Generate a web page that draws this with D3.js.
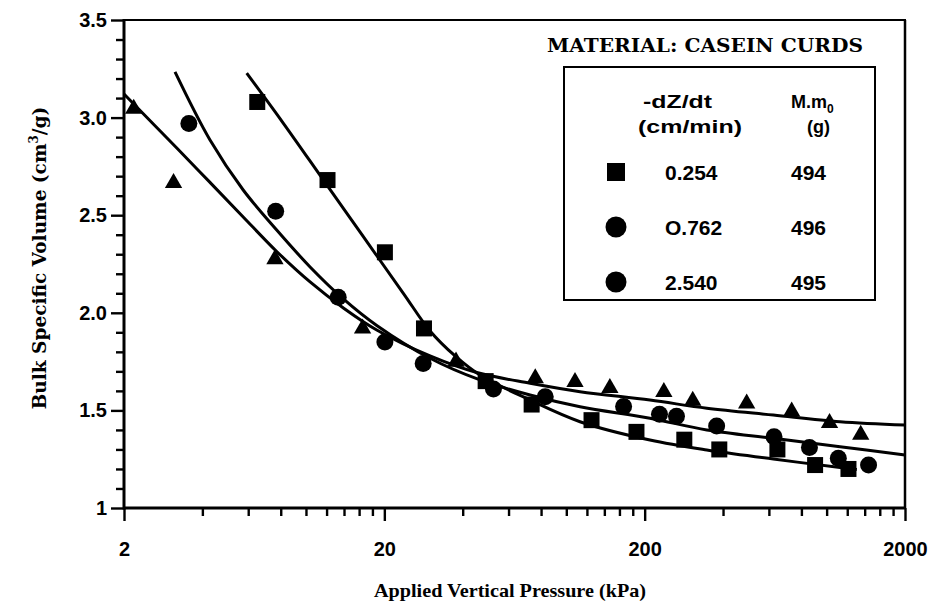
<!DOCTYPE html>
<html><head><meta charset="utf-8">
<script src="https://cdn.jsdelivr.net/npm/d3@7"></script>
<style>
html,body{margin:0;padding:0;background:#fff;}
svg{display:block;}
</style></head>
<body>
<svg id="chart" width="933" height="606"></svg>
<script>
// ---- data ----
const squarePts = [[6.5,3.08],[12.1,2.68],[20.1,2.31],[28.4,1.92],[49,1.65],[73.6,1.53],[125,1.45],[186,1.39],[284,1.35],[387,1.30],[647,1.30],[903,1.22],[1213,1.20]];
const circlePts = [[3.55,2.97],[7.65,2.52],[13.3,2.08],[20.1,1.85],[28.2,1.74],[52.5,1.61],[83,1.57],[166,1.52],[228,1.48],[265,1.47],[378,1.42],[628,1.365],[859,1.31],[1109,1.255],[1449,1.22]];
const trianglePts = [[2.18,3.05],[3.1,2.67],[7.6,2.28],[16.5,1.925],[37.7,1.755],[76,1.67],[108,1.65],[147,1.62],[237,1.60],[306,1.555],[493,1.54],[734,1.50],[1026,1.44],[1352,1.38]];

const squareFit = [[5.92,3.228],[8.19,2.971],[11.67,2.68],[16.61,2.39],[23.66,2.10],[29.97,1.907],[37.4,1.779],[46.6,1.681],[72.6,1.553],[112.9,1.442],[209.6,1.348],[346.6,1.297],[624.4,1.251],[1126,1.207],[1306,1.197]];
const circleFit = [[3.14,3.234],[4.28,2.885],[5.74,2.629],[7.72,2.424],[10.37,2.235],[13.92,2.071],[18.7,1.935],[29.97,1.767],[46.6,1.656],[72.6,1.579],[112.9,1.519],[209.6,1.46],[346.6,1.40],[624.4,1.357],[1126,1.314],[2000,1.271]];
const triangleFit = [[2,3.121],[3.19,2.844],[4.28,2.668],[5.74,2.491],[7.72,2.314],[10.37,2.158],[13.92,2.025],[18.7,1.912],[29.97,1.779],[45.3,1.694],[72.6,1.639],[112.9,1.596],[209.6,1.553],[346.6,1.511],[624.4,1.476],[1126,1.442],[2000,1.425]];

const xMajorTicks = [2,20,200,2000];
const xMinorTicks = [4,6,8,10,12,14,16,18,40,60,80,100,120,140,160,180,400,600,800,1000,1200,1400,1600,1800];
const yMajorTicks = [1,1.5,2,2.5,3,3.5];
const yTickLabels = ["1","1.5","2.0","2.5","3.0","3.5"];
const yMinorTicks = [1.1,1.2,1.3,1.4,1.6,1.7,1.8,1.9,2.1,2.2,2.3,2.4,2.6,2.7,2.8,2.9,3.1,3.2,3.3,3.4];

const legendTitle = "MATERIAL: CASEIN CURDS";
const legendRows = [
  {shape:"square", rate:"0.254", mass:"494"},
  {shape:"circle", rate:"O.762", mass:"496"},
  {shape:"circle", rate:"2.540", mass:"495"}
];

// ---- layout ----
const L=124, R=905, T=20, B=508;
const svg = d3.select("#chart");
const x = d3.scaleLog().domain([2,2000]).range([L,R]);
const y = d3.scaleLinear().domain([1,3.5]).range([B,T]);

const tickFont = "'Liberation Sans', Arial, sans-serif";
const serif = "'DejaVu Serif', 'Liberation Serif', serif";

// axes
const gx = svg.append("g").attr("transform",`translate(0,${B})`)
  .call(d3.axisBottom(x).tickValues(xMajorTicks).tickFormat(d=>String(d)).tickSize(13).tickPadding(21));
const gxm = svg.append("g").attr("transform",`translate(0,${B})`)
  .call(d3.axisBottom(x).tickValues(xMinorTicks).tickFormat("").tickSize(8));
const gy = svg.append("g").attr("transform",`translate(${L},0)`)
  .call(d3.axisLeft(y).tickValues(yMajorTicks).tickFormat((d,i)=>yTickLabels[i]).tickSize(13).tickPadding(4));
const gym = svg.append("g").attr("transform",`translate(${L},0)`)
  .call(d3.axisLeft(y).tickValues(yMinorTicks).tickFormat("").tickSize(8));
[gx,gxm,gy,gym].forEach(g=>{
  g.select(".domain").remove();
  g.selectAll(".tick line").attr("stroke","#000").attr("stroke-width",2.4);
  g.selectAll("text").attr("fill","#000").attr("font-family",tickFont).attr("font-weight","bold").attr("font-size",20);
});

// frame
svg.append("line").attr("x1",L).attr("x2",L).attr("y1",T-1).attr("y2",B+1.5).attr("stroke","#000").attr("stroke-width",3);
svg.append("line").attr("x1",L).attr("x2",R+1).attr("y1",B).attr("y2",B).attr("stroke","#000").attr("stroke-width",3);
svg.append("line").attr("x1",L).attr("x2",R+1).attr("y1",T).attr("y2",T).attr("stroke","#000").attr("stroke-width",2);
svg.append("line").attr("x1",R).attr("x2",R).attr("y1",T).attr("y2",B).attr("stroke","#000").attr("stroke-width",2.5);

// fitted curves
const line = d3.line().x(d=>x(d[0])).y(d=>y(d[1])).curve(d3.curveCatmullRom.alpha(0.5));
[squareFit,circleFit,triangleFit].forEach(f=>{
  svg.append("path").attr("d",line(f)).attr("fill","none").attr("stroke","#000").attr("stroke-width",3);
});

// markers
const sq = 16;
svg.append("g").selectAll("rect").data(squarePts).join("rect")
  .attr("x",d=>x(d[0])-sq/2).attr("y",d=>y(d[1])-sq/2).attr("width",sq).attr("height",sq).attr("fill","#000");
svg.append("g").selectAll("circle").data(circlePts).join("circle")
  .attr("cx",d=>x(d[0])).attr("cy",d=>y(d[1])).attr("r",8.5).attr("fill","#000");
const tri = d3.symbol().type(d3.symbolTriangle).size(130);
svg.append("g").selectAll("path").data(trianglePts).join("path")
  .attr("d",tri).attr("transform",d=>`translate(${x(d[0])},${y(d[1])+1})`).attr("fill","#000");

// legend
svg.append("text").attr("x",547).attr("y",52).attr("font-family",serif).attr("font-weight","bold").attr("font-size",18)
  .attr("textLength",316).attr("lengthAdjust","spacingAndGlyphs")
  .attr("fill","#000").text(legendTitle);
svg.append("rect").attr("x",564).attr("y",67).attr("width",311).attr("height",233)
  .attr("fill","#fff").attr("stroke","#000").attr("stroke-width",2);
const lf = {"font-family":tickFont,"font-weight":"bold","font-size":21,"fill":"#000"};
function txt(t,xx,yy,len,fs){const e=svg.append("text").attr("x",xx).attr("y",yy).text(t);Object.entries(lf).forEach(([k,v])=>e.attr(k,v));
  if(fs) e.attr("font-size",fs);
  if(len) e.attr("textLength",len).attr("lengthAdjust","spacingAndGlyphs");return e;}
txt("-dZ/dt",643,108,69,18);
txt("(cm/min)",638,133,104,18);
const mm = txt("M.m",791,108,null,18);
mm.append("tspan").attr("font-size",12).attr("dy",5).text("0");
txt("(g)",807,133,null,18);
const rowY = [172,227,282];
legendRows.forEach((r,i)=>{
  const cy = rowY[i];
  if(r.shape==="square") svg.append("rect").attr("x",616-9).attr("y",cy-9).attr("width",18).attr("height",18).attr("fill","#000");
  else svg.append("circle").attr("cx",616).attr("cy",cy).attr("r",10.5).attr("fill","#000");
  txt(r.rate,665,cy+8);
  txt(r.mass,791,cy+8);
});

// axis titles
svg.append("text").attr("x",510).attr("y",597).attr("text-anchor","middle")
  .attr("font-family","'Liberation Serif', serif").attr("font-weight","bold").attr("font-size",19).attr("fill","#000")
  .attr("textLength",272).attr("lengthAdjust","spacingAndGlyphs")
  .text("Applied Vertical Pressure (kPa)");
const yl = svg.append("text").attr("transform","translate(46,258) rotate(-90)").attr("text-anchor","middle")
  .attr("font-family",serif).attr("font-weight","bold").attr("font-size",18.5).attr("fill","#000");
yl.append("tspan").text("Bulk Specific Volume (cm");
yl.append("tspan").attr("font-size",12).attr("dy",-8).text("3");
yl.append("tspan").attr("dy",8).text("/g)");
</script>
</body></html>
